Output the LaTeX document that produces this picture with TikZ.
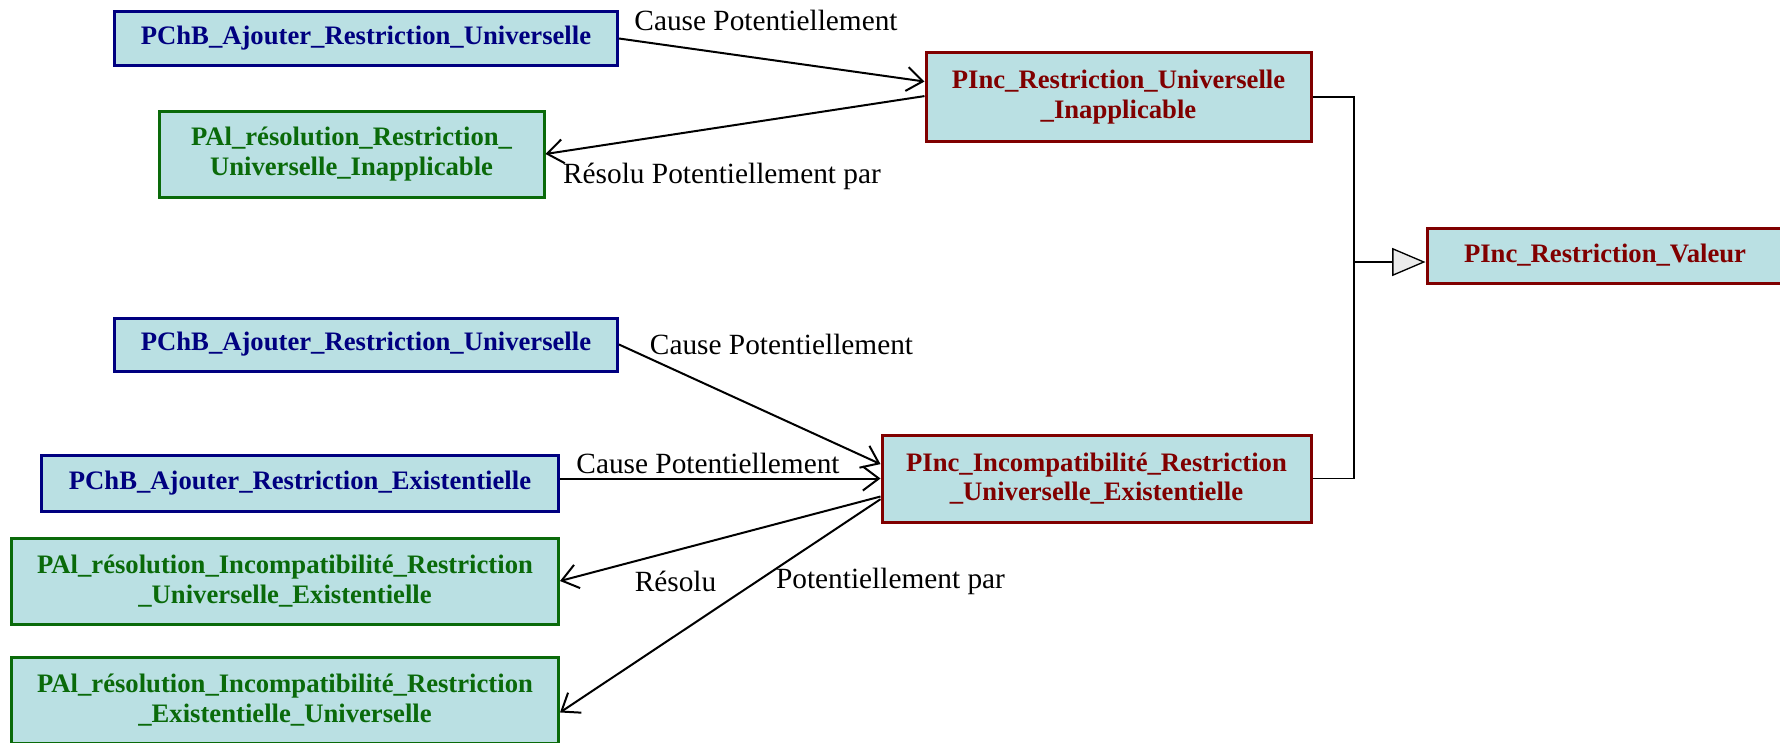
\documentclass[tikz,border=0pt]{standalone}
\usepackage{fontspec}
\setmainfont{Liberation Serif}
\usetikzlibrary{arrows.meta,calc}
\definecolor{boxfill}{HTML}{BAE0E3}
\definecolor{navyc}{HTML}{000080}
\definecolor{greenc}{HTML}{0A6A0A}
\definecolor{maroonc}{HTML}{800000}
\begin{document}
\begin{tikzpicture}[x=0.75pt,y=-0.75pt,
  box/.style={draw, fill=boxfill, line width=2.25pt, inner sep=0pt, align=center,
    font=\fontsize{20}{22}\selectfont\bfseries},
  bluebox/.style={box, draw=navyc, text=navyc},
  greenbox/.style={box, draw=greenc, text=greenc},
  redbox/.style={box, draw=maroonc, text=maroonc},
  lbl/.style={font=\fontsize{22}{24}\selectfont, inner sep=0pt},
  conn/.style={line width=1.5pt, -{Straight Barb[length=12pt,width=18pt,line width=1.5pt]}},
  gen/.style={line width=1pt}]
\clip (0,0) rectangle (1780,742);
\fill[white] (0,0) rectangle (1780,742);

% nodes
\node[bluebox, minimum width=377.25pt, minimum height=40.5pt] (A) at (366,38.5) {PChB\_Ajouter\_Restriction\_Universelle};
\node[greenbox, minimum width=288.75pt, minimum height=64.5pt] (B) at (351.5,154) {PAl\_résolution\_Restriction\_\\Universelle\_Inapplicable};
\node[redbox, minimum width=288.75pt, minimum height=66pt] (C) at (1118.5,97) {PInc\_Restriction\_Universelle\\\_Inapplicable};
\node[redbox, minimum width=267pt, minimum height=41.25pt] (D) at (1605,255.5) {PInc\_Restriction\_Valeur};
\node[bluebox, minimum width=377.25pt, minimum height=39.75pt] (E) at (366,344.5) {PChB\_Ajouter\_Restriction\_Universelle};
\node[bluebox, minimum width=387.4pt, minimum height=42pt] (F) at (300,483) {PChB\_Ajouter\_Restriction\_Existentielle};
\node[redbox, minimum width=321.75pt, minimum height=65.25pt] (G) at (1096.5,478.5) {PInc\_Incompatibilité\_Restriction\\\_Universelle\_Existentielle};
\node[greenbox, minimum width=410.25pt, minimum height=64.5pt] (H) at (285,581) {PAl\_résolution\_Incompatibilité\_Restriction\\\_Universelle\_Existentielle};
\node[greenbox, minimum width=410.25pt, minimum height=64.5pt] (I) at (285,700) {PAl\_résolution\_Incompatibilité\_Restriction\\\_Existentielle\_Universelle};

% labels
\node[lbl] (l1) at (766,20) {Cause Potentiellement};
\node[lbl] (l2) at (722,176) {Résolu Potentiellement par};
\node[lbl] (l3) at (781.5,344) {Cause Potentiellement};
\node[lbl] (l4) at (708,463) {Cause Potentiellement};
\node[lbl] (l5) at (675.5,581) {Résolu};
\node[lbl] (l6) at (890.5,581) {Potentiellement par};

% connectors
\draw[conn] (A.east) -- ($(C.north west)!0.33!(C.south west)$);
\draw[conn] ($(C.north west)!0.49!(C.south west)$) -- (B.east);
\draw[conn] (E.east) -- ($(G.north west)!0.34!(G.south west)$);
\draw[conn] (F.east |- G.west) -- (G.west);
\draw[conn] ($(G.north west)!0.70!(G.south west)$) -- (H.east);
\draw[conn] ($(G.north west)!0.73!(G.south west)$) -- ($(I.north east)!0.64!(I.south east)$);

% generalisation
\coordinate (J) at (1354,262);
\draw[gen] (C.east) -| (J);
\draw[gen] (G.east) -| (J);
\draw[gen, -{Triangle[length=25pt,width=21pt,fill=black!8,line width=1pt]}] (J) -- (J -| D.west);
\end{tikzpicture}
\end{document}
